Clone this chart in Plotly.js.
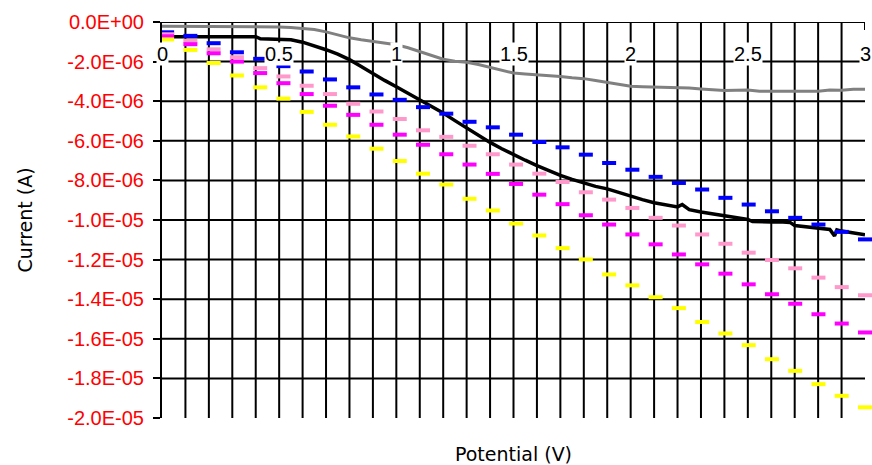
<!DOCTYPE html>
<html>
<head>
<meta charset="utf-8">
<script src="https://cdn.plot.ly/plotly-3.0.1.min.js"></script>
<style>html,body{margin:0;padding:0;background:#fff;}</style>
</head>
<body>
<div id="chart" style="width:872px;height:465px;"></div>
<script>
// ---- data (current values in microamps, scaled to amps below) ----
const xDash = [0,0.1,0.2,0.3,0.4,0.5,0.6,0.7,0.8,0.9,1.0,1.1,1.2,1.3,1.4,1.5,1.6,1.7,1.8,1.9,2.0,2.1,2.2,2.3,2.4,2.5,2.6,2.7,2.8,2.9,3.0];
const blueY = [-0.52,-0.70,-1.07,-1.53,-1.86,-2.23,-2.50,-2.90,-3.30,-3.66,-3.93,-4.30,-4.63,-5.04,-5.32,-5.69,-6.06,-6.33,-6.70,-7.12,-7.46,-7.82,-8.13,-8.46,-8.88,-9.22,-9.56,-9.89,-10.23,-10.60,-10.98];
const pinkY = [-0.62,-0.95,-1.38,-1.78,-2.33,-2.75,-3.22,-3.64,-4.13,-4.52,-4.90,-5.47,-5.80,-6.25,-6.68,-7.20,-7.66,-8.08,-8.60,-8.97,-9.39,-9.89,-10.28,-10.73,-11.20,-11.65,-12.02,-12.44,-12.91,-13.39,-13.80];
const magentaY = [-0.72,-1.12,-1.58,-2.00,-2.58,-3.09,-3.64,-4.23,-4.69,-5.19,-5.69,-6.20,-6.68,-7.20,-7.67,-8.18,-8.72,-9.20,-9.76,-10.23,-10.73,-11.23,-11.74,-12.24,-12.71,-13.25,-13.75,-14.23,-14.76,-15.23,-15.68];
const yellowY = [-0.88,-1.41,-2.07,-2.70,-3.30,-3.87,-4.54,-5.19,-5.78,-6.40,-7.02,-7.66,-8.21,-8.93,-9.52,-10.18,-10.78,-11.42,-11.99,-12.75,-13.30,-13.90,-14.45,-15.15,-15.73,-16.32,-17.03,-17.62,-18.29,-18.88,-19.46];

const blackX = [0,0.1,0.2,0.3,0.4,0.42,0.45,0.5,0.55,0.6,0.65,0.7,0.75,0.8,0.85,0.9,0.95,1.0,1.05,1.1,1.15,1.2,1.25,1.3,1.35,1.4,1.45,1.5,1.55,1.6,1.65,1.7,1.75,1.8,1.85,1.9,1.95,2.0,2.05,2.1,2.15,2.2,2.22,2.25,2.3,2.35,2.4,2.45,2.5,2.52,2.55,2.6,2.65,2.68,2.7,2.75,2.8,2.85,2.87,2.88,2.9,2.95,3.0];
const blackY = [-0.74,-0.74,-0.74,-0.74,-0.74,-0.85,-0.87,-0.88,-0.90,-1.02,-1.20,-1.40,-1.62,-1.90,-2.25,-2.62,-2.95,-3.27,-3.60,-3.94,-4.25,-4.60,-4.98,-5.36,-5.72,-6.08,-6.40,-6.70,-6.98,-7.25,-7.50,-7.75,-7.95,-8.13,-8.30,-8.43,-8.62,-8.80,-8.97,-9.13,-9.25,-9.34,-9.22,-9.48,-9.60,-9.70,-9.81,-9.90,-9.97,-10.08,-10.10,-10.10,-10.10,-10.12,-10.28,-10.35,-10.40,-10.48,-10.80,-10.50,-10.56,-10.65,-10.75];

const grayX = [0,0.1,0.2,0.3,0.4,0.5,0.55,0.6,0.65,0.7,0.75,0.8,0.85,0.9,0.95,1.0,1.05,1.1,1.15,1.2,1.25,1.3,1.35,1.4,1.45,1.5,1.55,1.6,1.65,1.7,1.75,1.8,1.85,1.9,1.95,2.0,2.05,2.1,2.15,2.2,2.25,2.3,2.35,2.4,2.45,2.5,2.55,2.6,2.65,2.7,2.75,2.8,2.85,2.9,2.95,3.0];
const grayY = [-0.22,-0.22,-0.22,-0.22,-0.22,-0.25,-0.28,-0.32,-0.38,-0.50,-0.65,-0.80,-0.90,-0.98,-1.05,-1.15,-1.30,-1.50,-1.70,-1.88,-1.98,-2.03,-2.15,-2.30,-2.45,-2.58,-2.63,-2.66,-2.70,-2.75,-2.82,-2.86,-2.95,-3.05,-3.15,-3.25,-3.27,-3.28,-3.28,-3.30,-3.33,-3.38,-3.42,-3.46,-3.45,-3.44,-3.50,-3.50,-3.49,-3.48,-3.47,-3.50,-3.43,-3.45,-3.40,-3.40];

const yTickVals = [0,-2e-6,-4e-6,-6e-6,-8e-6,-1e-5,-1.2e-5,-1.4e-5,-1.6e-5,-1.8e-5,-2e-5];
const yTickText = ['0.0E+00','-2.0E-06','-4.0E-06','-6.0E-06','-8.0E-06','-1.0E-05','-1.2E-05','-1.4E-05','-1.6E-05','-1.8E-05','-2.0E-05'];
const xTickVals = [0,0.5,1,1.5,2,2.5,3];
const xTickText = ['0','0.5','1','1.5','2','2.5','3'];

const UA = 1e-6;
const toA = arr => arr.map(v => v * UA);

// ---- traces ----
const traces = [
  {x: grayX, y: toA(grayY), type:'scatter', mode:'lines', line:{color:'#808080', width:3}, hoverinfo:'skip'},
  {x: blackX, y: toA(blackY), type:'scatter', mode:'lines', line:{color:'#000000', width:3.5}, hoverinfo:'skip'}
];
const dashSeries = [[blueY,'#0000FF'],[pinkY,'#FF99CC'],[magentaY,'#FF00FF'],[yellowY,'#FFFF00']];
dashSeries.forEach(([ys,c]) => traces.push({
  x: xDash, y: toA(ys), xaxis:'x2', type:'scatter', mode:'markers', cliponaxis:false,
  marker:{symbol:'line-ew', size:10, color:c, line:{color:c, width:4}}, hoverinfo:'skip'
}));

// ---- grid & axis decorations ----
const shapes = [];
for (let i = 1; i < 30; i++) {
  const gx = i / 10;
  shapes.push({type:'line', xref:'x', yref:'y', x0:gx, x1:gx, y0:-2e-5, y1:0, layer:'below', line:{color:'#000', width:2}});
}
yTickVals.slice(1, -1).forEach(gy => shapes.push({type:'line', xref:'x', yref:'y', x0:0, x1:3, y0:gy, y1:gy, layer:'below', line:{color:'#000', width:2}}));
shapes.push({type:'line', xref:'x', yref:'y', x0:0, x1:3, y0:0, y1:0, layer:'above', line:{color:'#000', width:2}});
shapes.push({type:'line', xref:'x', yref:'y', x0:3, x1:3, y0:0, y1:-0.4e-6, layer:'above', line:{color:'#000', width:2}});

const annotations = xTickVals.map((v, i) => ({
  x: v, y: -1.6e-6, xref:'x', yref:'y', text: xTickText[i], showarrow:false,
  xanchor:'center', yanchor:'middle', bgcolor:'#ffffff', borderpad:0,
  font:{family:'Liberation Sans, Arial, sans-serif', size:20, color:'#000'}
}));

const layout = {
  width: 872, height: 465,
  margin: {l:162, r:7, t:22, b:47},
  paper_bgcolor:'#ffffff', plot_bgcolor:'#ffffff',
  showlegend:false,
  xaxis: {range:[0,3], showgrid:false, zeroline:false, showline:false, ticks:'', showticklabels:false,
          title:{text:'Potential (V)', font:{family:'DejaVu Sans', size:19, color:'#000'}, standoff:30}},
  xaxis2: {overlaying:'x', anchor:'y', range:[-0.022, 3.0], visible:false},
  yaxis: {range:[-2e-5, 0], tickmode:'array', tickvals:yTickVals, ticktext:yTickText,
          ticks:'outside', ticklen:7, tickwidth:2, tickcolor:'#000', ticklabelstandoff:5,
          showline:true, linewidth:2, linecolor:'#000', showgrid:false, zeroline:false,
          tickfont:{family:'Liberation Sans, Arial, sans-serif', size:20, color:'#FF0000'},
          title:{text:'Current (A)', font:{family:'DejaVu Sans', size:19, color:'#000'}, standoff:30}},
  shapes, annotations
};

Plotly.newPlot('chart', traces, layout, {displayModeBar:false, staticPlot:true});
</script>
</body>
</html>
